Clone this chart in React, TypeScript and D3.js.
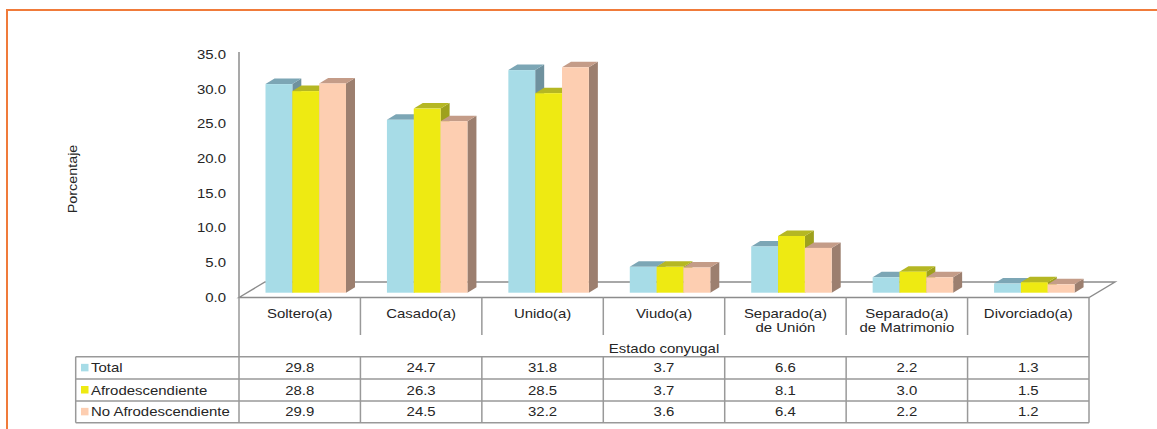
import React from 'react';
import * as d3 from 'd3';

// categorías del eje X (cada una en líneas)
const categories = ['Soltero(a)', 'Casado(a)', 'Unido(a)', 'Viudo(a)', 'Separado(a) de Unión', 'Separado(a) de Matrimonio', 'Divorciado(a)'];
const categoryLines = [['Soltero(a)'], ['Casado(a)'], ['Unido(a)'], ['Viudo(a)'], ['Separado(a)', 'de Unión'], ['Separado(a)', 'de Matrimonio'], ['Divorciado(a)']];

const seriesNames = ['Total', 'Afrodescendiente', 'No Afrodescendiente'];
const totalValues = [29.8, 24.7, 31.8, 3.7, 6.6, 2.2, 1.3];
const afroValues = [28.8, 26.3, 28.5, 3.7, 8.1, 3.0, 1.5];
const noAfroValues = [29.9, 24.5, 32.2, 3.6, 6.4, 2.2, 1.2];
const seriesValues = [totalValues, afroValues, noAfroValues];

const yTicks = [0, 5, 10, 15, 20, 25, 30, 35];

// colores: frente, tapa, lado
const faceColors = ['#a7dce7', '#eeea12', '#fdceb1'];
const topColors = ['#7ca6b5', '#b5b723', '#c49c88'];
const sideColors = ['#6f919e', '#9ea11d', '#9c7f6f'];

const W = 1157;
const H = 429;
const TEXT = '#262626';
const LINE = '#999999';
const FONT = '"Liberation Sans", Arial, sans-serif';
const SX = 1.15; // el texto del original es algo ancho

// piso 3D
const floorLeft = 239;
const floorRight = 1089;
const floorFront = 297.5;
const depthX = 26;
const depthY = 15.5;
// profundidad de cada barra
const barDx = 9;
const barDy = 5.5;
const barBase = 292.7;

// tabla
const tableLeft = 75.7;
const headerBottom = 335;
const rowLines = [356.7, 379, 401, 422.7];

function T({ x, y, anchor = 'middle', size = 13, rotate = 0, children }: any) {
  return (
    <text
      transform={`translate(${x},${y}) rotate(${rotate}) scale(${SX},1)`}
      textAnchor={anchor}
      fontSize={size}
      fontFamily={FONT}
      fill={TEXT}
    >
      {children}
    </text>
  );
}

export default function App() {
  const xCat = d3.scaleBand<string>().domain(categories).range([floorLeft, floorRight]).paddingInner(0).paddingOuter(0);
  const xSeries = d3.scaleBand<string>().domain(seriesNames).range([26.5, 107]);
  // escala del eje (pared) y de las barras
  const yAxis = d3.scaleLinear().domain([0, 35]).range([297.2, 54.3]);
  const yBar = d3.scaleLinear().domain([0, 35]).range([barBase, barBase - 245]);

  const bw = xSeries.bandwidth();

  const floor = [
    [floorLeft, floorFront],
    [floorLeft + depthX, floorFront - depthY],
    [floorRight + depthX, floorFront - depthY],
    [floorRight, floorFront],
  ];

  return (
    <svg width={W} height={H} style={{ position: 'absolute', left: 0, top: 0, background: '#fff' }}>
      {/* marco naranja */}
      <path d={`M7,${H} L7,10 L${W},10`} fill="none" stroke="#f07b3a" strokeWidth={2} />

      {/* eje Y */}
      <line x1={floorLeft} x2={floorLeft} y1={52} y2={floorFront} stroke="#8c8c8c" strokeWidth={1.5} />
      {yTicks.map((t) => (
        <T key={t} x={226} y={yAxis(t) + 4.6} anchor="end" size={13}>
          {t.toFixed(1)}
        </T>
      ))}
      <T x={77} y={179} rotate={-90} size={12.5}>
        Porcentaje
      </T>

      {/* piso */}
      <polygon points={floor.map((p) => p.join(',')).join(' ')} fill="#fff" stroke="#8c8c8c" strokeWidth={1.4} />

      {/* barras */}
      {categories.map((c, ci) =>
        seriesNames.map((s, si) => {
          const x = (xCat(c) as number) + (xSeries(s) as number);
          const yt = yBar(seriesValues[si][ci]);
          const side = `${x + bw},${yt} ${x + bw + barDx},${yt - barDy} ${x + bw + barDx},${barBase - barDy} ${x + bw},${barBase}`;
          const top = `${x},${yt} ${x + barDx},${yt - barDy} ${x + bw + barDx},${yt - barDy} ${x + bw},${yt}`;
          return (
            <g key={`${c}-${s}`}>
              <polygon points={side} fill={sideColors[si]} />
              <polygon points={top} fill={topColors[si]} />
              <rect x={x} y={yt} width={bw} height={barBase - yt} fill={faceColors[si]} />
            </g>
          );
        })
      )}

      {/* tabla de datos */}
      <g stroke={LINE} strokeWidth={1.5}>
        <line x1={floorLeft} x2={floorLeft} y1={floorFront} y2={rowLines[3]} />
        <line x1={floorRight} x2={floorRight} y1={floorFront} y2={rowLines[3]} />
        <line x1={tableLeft} x2={tableLeft} y1={rowLines[0]} y2={rowLines[3]} />
        {rowLines.map((y) => (
          <line key={y} x1={tableLeft} x2={floorRight} y1={y} y2={y} />
        ))}
        {categories.slice(1).map((c) => (
          <g key={c}>
            <line x1={xCat(c)} x2={xCat(c)} y1={floorFront} y2={headerBottom} />
            <line x1={xCat(c)} x2={xCat(c)} y1={rowLines[0]} y2={rowLines[3]} />
          </g>
        ))}
      </g>

      {categories.map((c, ci) =>
        categoryLines[ci].map((line, li) => (
          <T key={`${c}-${li}`} x={(xCat(c) as number) + xCat.bandwidth() / 2} y={317.5 + li * 14.5} size={13}>
            {line}
          </T>
        ))
      )}
      <T x={(floorLeft + floorRight) / 2} y={352.5} size={13}>
        Estado conyugal
      </T>

      {seriesNames.map((s, si) => {
        const cy = (rowLines[si] + rowLines[si + 1]) / 2;
        return (
          <g key={s}>
            <rect x={81} y={cy - 4} width={7.5} height={7.5} fill={faceColors[si]} />
            <T x={91} y={cy + 4.6} anchor="start" size={13}>
              {s}
            </T>
            {categories.map((c, ci) => (
              <T key={c} x={(xCat(c) as number) + xCat.bandwidth() / 2} y={cy + 4.6} size={13}>
                {seriesValues[si][ci].toFixed(1)}
              </T>
            ))}
          </g>
        );
      })}
    </svg>
  );
}
